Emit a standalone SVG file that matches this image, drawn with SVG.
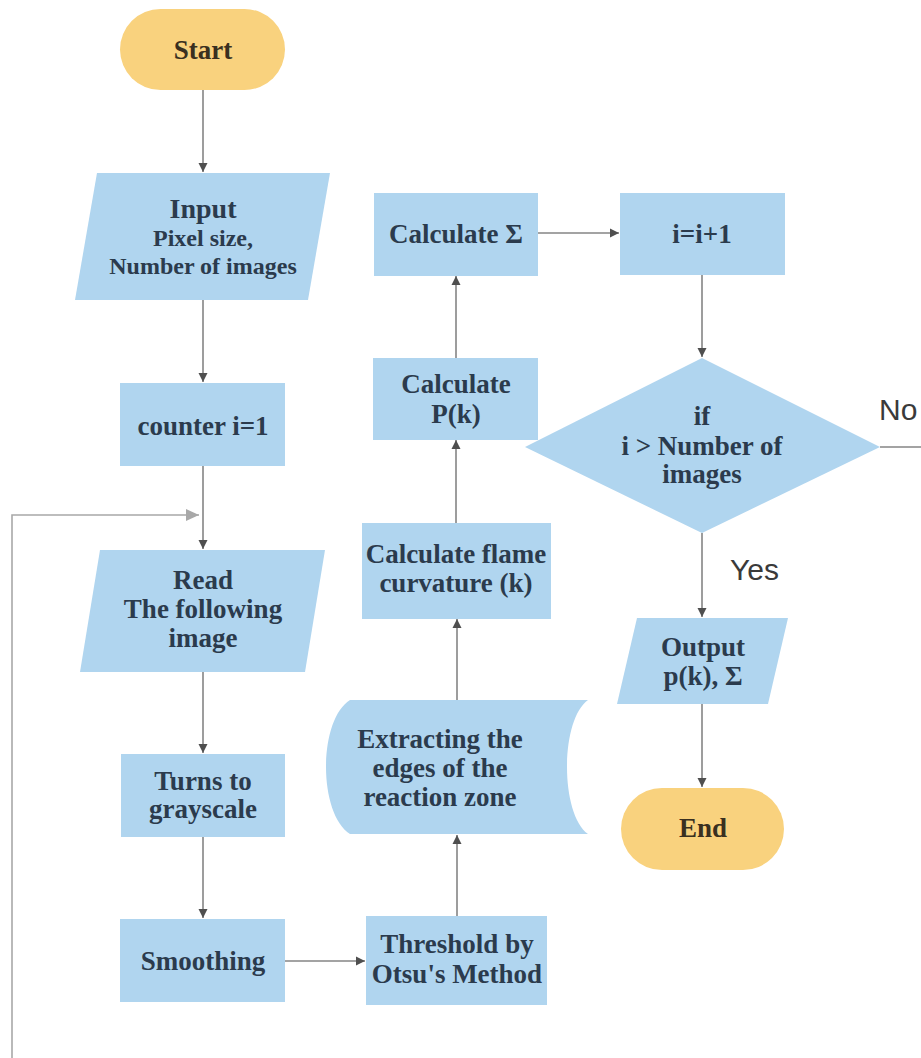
<svg xmlns="http://www.w3.org/2000/svg" width="921" height="1058" viewBox="0 0 921 1058">
<style>
.proc{fill:#b0d5ef;}
.term{fill:#f9d27e;}
.c{fill:none;stroke:#858585;stroke-width:1.6;}
.fb{fill:none;stroke:#a8a8a8;stroke-width:1.6;}
</style>
<defs>
<marker id="ah" markerUnits="userSpaceOnUse" markerWidth="10" markerHeight="10" refX="9" refY="5" orient="auto">
<path d="M0,0.5 L9,5 L0,9.5 Z" fill="#4f4f4f"/>
</marker>
<marker id="ahl" markerUnits="userSpaceOnUse" markerWidth="14" markerHeight="14" refX="13" refY="7" orient="auto">
<path d="M0,1 L13,7 L0,13 Z" fill="#a8a8a8"/>
</marker>
</defs>
<rect width="921" height="1058" fill="#ffffff"/>
<g id="connectors">
<line class="c" x1="203" y1="90" x2="203" y2="172" marker-end="url(#ah)"/>
<line class="c" x1="203" y1="300" x2="203" y2="382" marker-end="url(#ah)"/>
<line class="c" x1="203" y1="466" x2="203" y2="549" marker-end="url(#ah)"/>
<polyline class="fb" points="12,1058 12,515 199,515" marker-end="url(#ahl)"/>
<line class="c" x1="203" y1="672" x2="203" y2="753" marker-end="url(#ah)"/>
<line class="c" x1="203" y1="837" x2="203" y2="918" marker-end="url(#ah)"/>
<line class="c" x1="285" y1="961" x2="365" y2="961" marker-end="url(#ah)"/>
<line class="c" x1="457" y1="916" x2="457" y2="835" marker-end="url(#ah)"/>
<line class="c" x1="457" y1="700" x2="457" y2="619" marker-end="url(#ah)"/>
<line class="c" x1="456" y1="523" x2="456" y2="440" marker-end="url(#ah)"/>
<line class="c" x1="456" y1="358" x2="456" y2="276" marker-end="url(#ah)"/>
<line class="c" x1="538" y1="233" x2="619" y2="233" marker-end="url(#ah)"/>
<line class="c" x1="702" y1="275" x2="702" y2="357" marker-end="url(#ah)"/>
<line class="c" x1="880" y1="447" x2="921" y2="447"/>
<line class="c" x1="702" y1="533" x2="702" y2="617" marker-end="url(#ah)"/>
<line class="c" x1="702" y1="704" x2="702" y2="787" marker-end="url(#ah)"/>
<text x="879" y="420" font-family="Liberation Sans" font-size="30" fill="#3a3a3a">No</text>
<text x="730" y="580" font-family="Liberation Sans" font-size="30" fill="#3a3a3a">Yes</text>
</g>
<g id="start">
<rect class="term" x="120" y="9" width="165" height="81" rx="40.5"/>
<text x="203" y="59" font-family="Liberation Serif" font-weight="bold" font-size="27" fill="#3a3020" text-anchor="middle">Start</text>
</g>
<g id="input">
<polygon class="proc" points="97,173 330,173 308,300 75,300"/>
<text x="203" y="218" font-family="Liberation Serif" font-weight="bold" font-size="28" fill="#2b3b4d" text-anchor="middle">Input</text>
<text x="203" y="246" font-family="Liberation Serif" font-weight="bold" font-size="24" fill="#2b3b4d" text-anchor="middle">Pixel size,</text>
<text x="203" y="274" font-family="Liberation Serif" font-weight="bold" font-size="24" fill="#2b3b4d" text-anchor="middle">Number of images</text>
</g>
<g id="counter">
<rect class="proc" x="120" y="383" width="165" height="83"/>
<text x="203" y="435" font-family="Liberation Serif" font-weight="bold" font-size="27" fill="#2b3b4d" text-anchor="middle">counter i=1</text>
</g>
<g id="read">
<polygon class="proc" points="100,550 325,550 305,672 80,672"/>
<text x="203" y="589" font-family="Liberation Serif" font-weight="bold" font-size="27" fill="#2b3b4d" text-anchor="middle">Read</text>
<text x="203" y="618" font-family="Liberation Serif" font-weight="bold" font-size="27" fill="#2b3b4d" text-anchor="middle">The following</text>
<text x="203" y="647" font-family="Liberation Serif" font-weight="bold" font-size="27" fill="#2b3b4d" text-anchor="middle">image</text>
</g>
<g id="grayscale">
<rect class="proc" x="121" y="754" width="164" height="83"/>
<text x="203" y="790" font-family="Liberation Serif" font-weight="bold" font-size="27" fill="#2b3b4d" text-anchor="middle">Turns to</text>
<text x="203" y="818" font-family="Liberation Serif" font-weight="bold" font-size="27" fill="#2b3b4d" text-anchor="middle">grayscale</text>
</g>
<g id="smoothing">
<rect class="proc" x="120" y="919" width="165" height="83"/>
<text x="203" y="970" font-family="Liberation Serif" font-weight="bold" font-size="27" fill="#2b3b4d" text-anchor="middle">Smoothing</text>
</g>
<g id="threshold">
<rect class="proc" x="366" y="916" width="181" height="89"/>
<text x="457" y="953" font-family="Liberation Serif" font-weight="bold" font-size="27" fill="#2b3b4d" text-anchor="middle">Threshold by</text>
<text x="457" y="983" font-family="Liberation Serif" font-weight="bold" font-size="27" fill="#2b3b4d" text-anchor="middle">Otsu's Method</text>
</g>
<g id="extract">
<path class="proc" d="M350,700 H588 C560,720 560,814 588,834 H350 C318,814 318,720 350,700 Z"/>
<text x="440" y="748" font-family="Liberation Serif" font-weight="bold" font-size="27" fill="#2b3b4d" text-anchor="middle">Extracting the</text>
<text x="440" y="777" font-family="Liberation Serif" font-weight="bold" font-size="27" fill="#2b3b4d" text-anchor="middle">edges of the</text>
<text x="440" y="806" font-family="Liberation Serif" font-weight="bold" font-size="27" fill="#2b3b4d" text-anchor="middle">reaction zone</text>
</g>
<g id="curvature">
<rect class="proc" x="362" y="523" width="189" height="96"/>
<text x="456" y="563" font-family="Liberation Serif" font-weight="bold" font-size="27" fill="#2b3b4d" text-anchor="middle">Calculate flame</text>
<text x="456" y="592" font-family="Liberation Serif" font-weight="bold" font-size="27" fill="#2b3b4d" text-anchor="middle">curvature (k)</text>
</g>
<g id="pk">
<rect class="proc" x="373" y="358" width="165" height="82"/>
<text x="456" y="393" font-family="Liberation Serif" font-weight="bold" font-size="27" fill="#2b3b4d" text-anchor="middle">Calculate</text>
<text x="456" y="423" font-family="Liberation Serif" font-weight="bold" font-size="27" fill="#2b3b4d" text-anchor="middle">P(k)</text>
</g>
<g id="sigma">
<rect class="proc" x="374" y="193" width="164" height="83"/>
<text x="456" y="243" font-family="Liberation Serif" font-weight="bold" font-size="27" fill="#2b3b4d" text-anchor="middle">Calculate Σ</text>
</g>
<g id="incr">
<rect class="proc" x="620" y="193" width="165" height="82"/>
<text x="702" y="243" font-family="Liberation Serif" font-weight="bold" font-size="27" fill="#2b3b4d" text-anchor="middle">i=i+1</text>
</g>
<g id="decision">
<polygon class="proc" points="702,358 880,447 702,533 525,447"/>
<text x="702" y="425" font-family="Liberation Serif" font-weight="bold" font-size="27" fill="#2b3b4d" text-anchor="middle">if</text>
<text x="702" y="455" font-family="Liberation Serif" font-weight="bold" font-size="27" fill="#2b3b4d" text-anchor="middle">i &gt; Number of</text>
<text x="702" y="483" font-family="Liberation Serif" font-weight="bold" font-size="27" fill="#2b3b4d" text-anchor="middle">images</text>
</g>
<g id="output">
<polygon class="proc" points="637,618 788,618 768,704 617,704"/>
<text x="703" y="656" font-family="Liberation Serif" font-weight="bold" font-size="27" fill="#2b3b4d" text-anchor="middle">Output</text>
<text x="703" y="685" font-family="Liberation Serif" font-weight="bold" font-size="27" fill="#2b3b4d" text-anchor="middle">p(k), Σ</text>
</g>
<g id="end">
<rect class="term" x="621" y="788" width="163" height="82" rx="41"/>
<text x="703" y="837" font-family="Liberation Serif" font-weight="bold" font-size="27" fill="#3a3020" text-anchor="middle">End</text>
</g>
</svg>
